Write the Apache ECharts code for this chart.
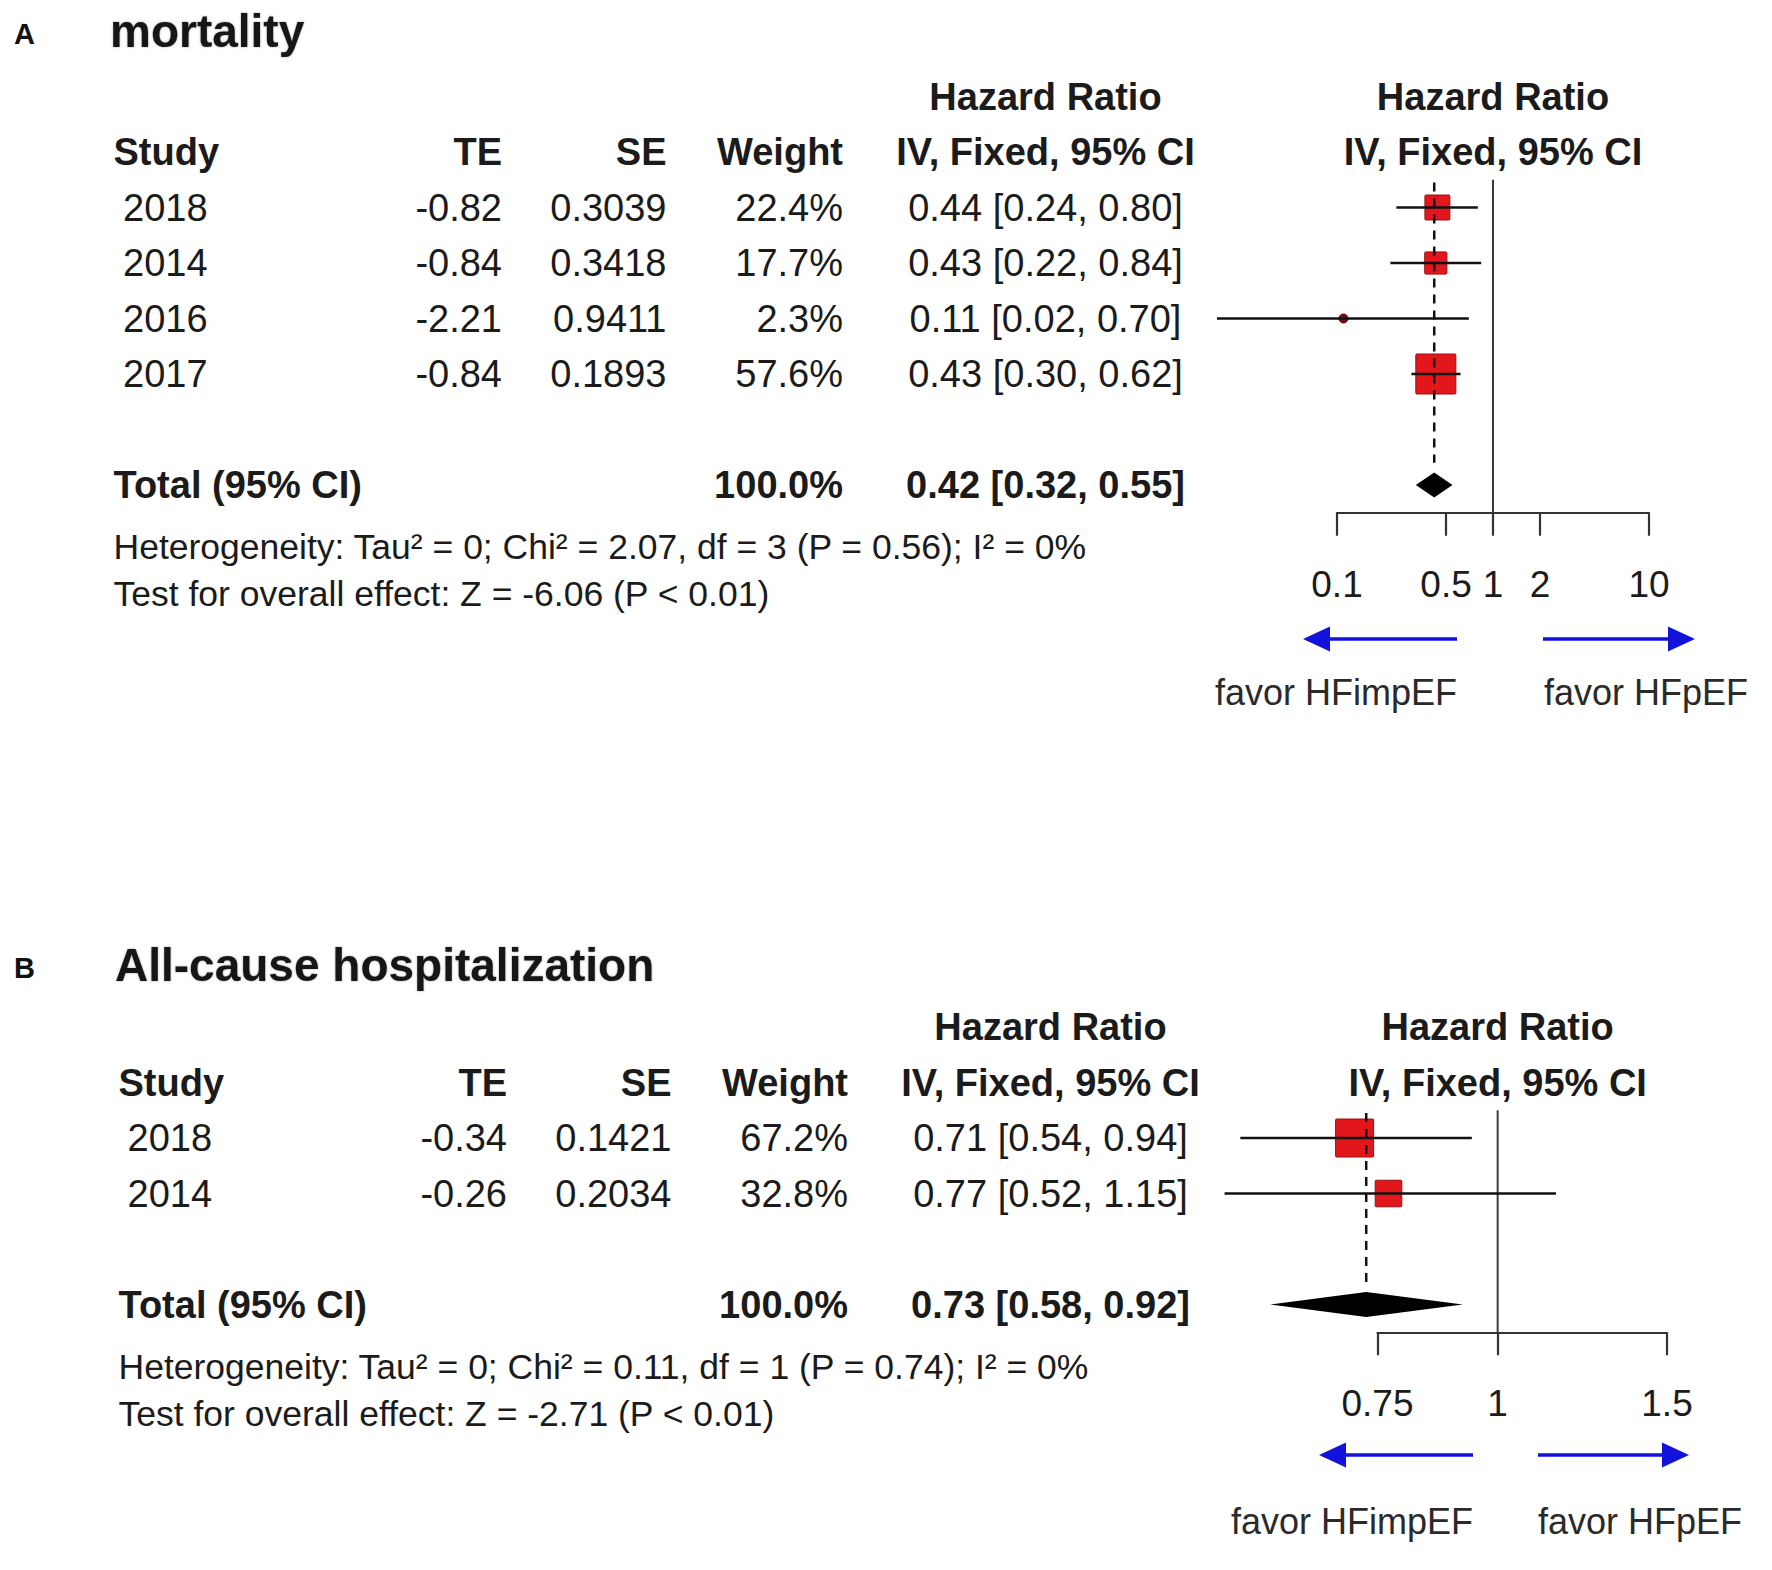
<!DOCTYPE html>
<html>
<head>
<meta charset="utf-8">
<script src="https://cdn.jsdelivr.net/npm/echarts@6/dist/echarts.min.js"></script>
<style>
html,body{margin:0;padding:0;background:#ffffff;}
#main{width:1772px;height:1570px;}
</style>
</head>
<body>
<div id="main"></div>
<script>
// ---------------- Panel A : mortality ----------------
const titleA = 'mortality';
const studyA = ['2018', '2014', '2016', '2017'];
const teA = [-0.82, -0.84, -2.21, -0.84];
const seA = [0.3039, 0.3418, 0.9411, 0.1893];
const weightA = [22.4, 17.7, 2.3, 57.6];
const hrA = [0.44, 0.43, 0.11, 0.43];
const lowerA = [0.24, 0.22, 0.017, 0.30];
const upperA = [0.80, 0.84, 0.70, 0.62];
const totalA = [0.42, 0.32, 0.55];          // HR, lower, upper
const hetA = 'Heterogeneity: Tau² = 0; Chi² = 2.07, df = 3 (P = 0.56); I² = 0%';
const testA = 'Test for overall effect: Z = -6.06 (P < 0.01)';
const ticksA = [0.1, 0.5, 1, 2, 10];

// ---------------- Panel B : All-cause hospitalization ----------------
const titleB = 'All-cause hospitalization';
const studyB = ['2018', '2014'];
const teB = [-0.34, -0.26];
const seB = [0.1421, 0.2034];
const weightB = [67.2, 32.8];
const hrB = [0.71, 0.77];
const lowerB = [0.54, 0.52];
const upperB = [0.94, 1.15];
const totalB = [0.73, 0.58, 0.92];
const hetB = 'Heterogeneity: Tau² = 0; Chi² = 0.11, df = 1 (P = 0.74); I² = 0%';
const testB = 'Test for overall effect: Z = -2.71 (P < 0.01)';
const ticksB = [0.75, 1, 1.5];

const leftLabel = 'favor HFimpEF';
const rightLabel = 'favor HFpEF';
const colHeaders = ['Study', 'TE', 'SE', 'Weight', 'Hazard Ratio', 'IV, Fixed, 95% CI', 'Total (95% CI)'];

// ---------------- styling / layout ----------------
const FONT = '"Liberation Sans", Arial, Helvetica, sans-serif';
const INK = '#1b1b1b';
const RED = '#e3161c';
const BLUE = '#1212dc';

const panels = [
  {
    letter: 'A', title: titleA, study: studyA, te: teA, se: seA, weight: weightA, hr: hrA,
    lower: lowerA, upper: upperA, total: totalA, het: hetA, test: testA, ticks: ticksA,
    L: { rowTop: 96.5, rowH: 55.5, totalRow: 7, axMin: 0.1, axMax: 10, gridLeft: 1337, gridWidth: 312,
         letterX: 14, titleX: 110, titleY: 31,
         colStudyHead: 113.5, colStudy: 123, colTE: 502, colSE: 666.5, colW: 843, colHR: 1045.5,
         maxBox: 40, arrowY: 639, leftArrow: [1457, 1303], rightArrow: [1543, 1695],
         favorY: 692, favorLeftX: 1336, favorRightX: 1646 }
  },
  {
    letter: 'B', title: titleB, study: studyB, te: teB, se: seB, weight: weightB, hr: hrB,
    lower: lowerB, upper: upperB, total: totalB, het: hetB, test: testB, ticks: ticksB,
    L: { rowTop: 1027, rowH: 55.5, totalRow: 5, axMin: 0.75, axMax: 1.5, gridLeft: 1377.5, gridWidth: 289.5,
         letterX: 14, titleX: 115, titleY: 965,
         colStudyHead: 118.5, colStudy: 127.5, colTE: 507, colSE: 671.5, colW: 848, colHR: 1050.5,
         maxBox: 38, arrowY: 1455, leftArrow: [1473, 1319], rightArrow: [1538, 1689],
         favorY: 1521, favorLeftX: 1352, favorRightX: 1640 }
  }
];

function fmtHR(h, l, u) { return h.toFixed(2) + ' [' + l.toFixed(2) + ', ' + u.toFixed(2) + ']'; }

function tableRows(p) {
  const L = p.L;
  const rows = [];
  rows.push({ y: 0, cells: [
    { t: colHeaders[4], x: L.colHR, a: 'center', b: true },
    { t: colHeaders[4], x: 'one', a: 'center', b: true } ] });
  rows.push({ y: 1, cells: [
    { t: colHeaders[0], x: L.colStudyHead, a: 'left', b: true },
    { t: colHeaders[1], x: L.colTE, a: 'right', b: true },
    { t: colHeaders[2], x: L.colSE, a: 'right', b: true },
    { t: colHeaders[3], x: L.colW, a: 'right', b: true },
    { t: colHeaders[5], x: L.colHR, a: 'center', b: true },
    { t: colHeaders[5], x: 'one', a: 'center', b: true } ] });
  p.study.forEach(function (s, i) {
    rows.push({ y: i + 2, cells: [
      { t: s, x: L.colStudy, a: 'left' },
      { t: p.te[i].toFixed(2), x: L.colTE, a: 'right' },
      { t: p.se[i].toFixed(4), x: L.colSE, a: 'right' },
      { t: p.weight[i].toFixed(1) + '%', x: L.colW, a: 'right' },
      { t: fmtHR(p.hr[i], p.lower[i], p.upper[i]), x: L.colHR, a: 'center' } ] });
  });
  const wSum = p.weight.reduce(function (a, b) { return a + b; }, 0);
  rows.push({ y: L.totalRow, cells: [
    { t: colHeaders[6], x: L.colStudyHead, a: 'left', b: true },
    { t: wSum.toFixed(1) + '%', x: L.colW, a: 'right', b: true },
    { t: fmtHR(p.total[0], p.total[1], p.total[2]), x: L.colHR, a: 'center', b: true } ] });
  rows.push({ y: L.totalRow + 1.12, cells: [ { t: p.het, x: L.colStudyHead, a: 'left', fs: 35.5 } ] });
  rows.push({ y: L.totalRow + 1.97, cells: [ { t: p.test, x: L.colStudyHead, a: 'left', fs: 35.5 } ] });
  return rows;
}

const grids = [], xAxes = [], yAxes = [], series = [], graphics = [];

panels.forEach(function (p, k) {
  const L = p.L;
  const yMin = 1.5, yMax = L.totalRow + 0.5;
  grids.push({ left: L.gridLeft, width: L.gridWidth, top: L.rowTop + yMin * L.rowH,
               height: (yMax - yMin) * L.rowH, containLabel: false, outerBoundsMode: 'none' });
  xAxes.push({
    type: 'log', logBase: 10, gridIndex: k, min: L.axMin, max: L.axMax, position: 'bottom',
    axisLine: { show: true, lineStyle: { color: '#333', width: 2.2 } },
    axisTick: { show: true, inside: false, length: 23, customValues: p.ticks, lineStyle: { color: '#333', width: 2.2 } },
    axisLabel: { show: true, customValues: p.ticks, interval: 0, margin: 53, fontSize: 37, fontFamily: FONT, color: INK,
                 formatter: function (v) { return String(+Number(v).toPrecision(6)); } },
    splitLine: { show: false }, minorTick: { show: false }, minorSplitLine: { show: false }
  });
  yAxes.push({ type: 'value', gridIndex: k, min: yMin, max: yMax, inverse: true, show: false,
               splitLine: { show: false } });

  // reference line at HR = 1
  series.push({
    type: 'custom', xAxisIndex: k, yAxisIndex: k, clip: false, silent: true, z: 2,
    data: [[1, yMin, yMax]],
    renderItem: function (params, api) {
      const a = api.coord([api.value(0), api.value(1)]);
      const b = api.coord([api.value(0), api.value(2)]);
      return { type: 'line', shape: { x1: a[0], y1: a[1], x2: b[0], y2: b[1] },
               style: { stroke: '#3a3a3a', lineWidth: 2 } };
    }
  });

  // study squares + CI lines
  const maxW = Math.max.apply(null, p.weight);
  series.push({
    type: 'custom', xAxisIndex: k, yAxisIndex: k, clip: false, silent: true, z: 3,
    data: p.hr.map(function (h, i) { return [h, i + 2, p.lower[i], p.upper[i], p.weight[i]]; }),
    renderItem: function (params, api) {
      const c = api.coord([api.value(0), api.value(1)]);
      const l = api.coord([api.value(2), api.value(1)]);
      const u = api.coord([api.value(3), api.value(1)]);
      const s = Math.max(9, L.maxBox * Math.sqrt(api.value(4) / maxW));
      const tiny = s < 14;
      return { type: 'group', children: [
        { type: 'rect', shape: { x: c[0] - s / 2, y: c[1] - s / 2, width: s, height: s, r: tiny ? s / 2 : 1 },
          style: { fill: tiny ? '#7a0c1c' : RED, stroke: tiny ? '#4a0612' : '#9a0f14', lineWidth: 1 } },
        { type: 'line', shape: { x1: l[0], y1: c[1], x2: u[0], y2: c[1] },
          style: { stroke: '#111', lineWidth: 2.4 } }
      ] };
    }
  });

  // pooled estimate: dashed line + diamond
  series.push({
    type: 'custom', xAxisIndex: k, yAxisIndex: k, clip: false, silent: true, z: 4,
    data: [[p.total[0], L.totalRow, p.total[1], p.total[2]]],
    renderItem: function (params, api) {
      const row = api.value(1);
      const top = api.coord([api.value(0), 1.55]);
      const bot = api.coord([api.value(0), row - 0.4]);
      const c = api.coord([api.value(0), row]);
      const l = api.coord([api.value(2), row]);
      const u = api.coord([api.value(3), row]);
      const h = 12.5;
      return { type: 'group', children: [
        { type: 'line', shape: { x1: top[0], y1: top[1], x2: bot[0], y2: bot[1] },
          style: { stroke: '#111', lineWidth: 2.5, lineDash: [9, 7] } },
        { type: 'polygon', shape: { points: [[l[0], c[1]], [c[0], c[1] - h], [u[0], c[1]], [c[0], c[1] + h]] },
          style: { fill: '#000' } }
      ] };
    }
  });

  // table text
  const rows = tableRows(p);
  series.push({
    type: 'custom', xAxisIndex: k, yAxisIndex: k, clip: false, silent: true, z: 5,
    data: rows.map(function (r) { return [1, r.y]; }),
    renderItem: function (params, api) {
      const r = rows[params.dataIndex];
      const pt = api.coord([api.value(0), api.value(1)]);
      return { type: 'group', children: r.cells.map(function (c) {
        return { type: 'text', x: c.x === 'one' ? pt[0] : c.x, y: pt[1],
                 style: { text: c.t, fontFamily: FONT, fontSize: c.fs || 38, fontWeight: c.b ? 'bold' : 'normal',
                          fill: INK, align: c.a, verticalAlign: 'middle' } };
      }) };
    }
  });

  // panel letter and title
  graphics.push({ type: 'text', x: L.letterX, y: L.titleY + 3,
    style: { text: p.letter, fontFamily: FONT, fontSize: 29, fontWeight: 'bold', fill: '#111', align: 'left', verticalAlign: 'middle' } });
  graphics.push({ type: 'text', x: L.titleX, y: L.titleY,
    style: { text: p.title, fontFamily: FONT, fontSize: 46, fontWeight: 'bold', fill: '#161616', align: 'left', verticalAlign: 'middle',
             textShadowColor: 'rgba(0,0,0,0.35)', textShadowBlur: 2 } });

  // direction arrows
  [L.leftArrow, L.rightArrow].forEach(function (ar) {
    const tail = ar[0], tip = ar[1], dir = tip > tail ? 1 : -1, hl = 27, hw = 12.5, y = L.arrowY;
    graphics.push({ type: 'line', shape: { x1: tail, y1: y, x2: tip - dir * hl * 0.7, y2: y },
                    style: { stroke: BLUE, lineWidth: 3.6 } });
    graphics.push({ type: 'polygon', shape: { points: [[tip, y], [tip - dir * hl, y - hw], [tip - dir * hl, y + hw]] },
                    style: { fill: BLUE } });
  });
  graphics.push({ type: 'text', x: L.favorLeftX, y: L.favorY,
    style: { text: leftLabel, fontFamily: FONT, fontSize: 36, fill: '#2a2a2a', align: 'center', verticalAlign: 'middle' } });
  graphics.push({ type: 'text', x: L.favorRightX, y: L.favorY,
    style: { text: rightLabel, fontFamily: FONT, fontSize: 36, fill: '#2a2a2a', align: 'center', verticalAlign: 'middle' } });
});

const chart = echarts.init(document.getElementById('main'), null, { renderer: 'svg', width: 1772, height: 1570 });
chart.setOption({
  animation: false,
  backgroundColor: '#ffffff',
  grid: grids,
  xAxis: xAxes,
  yAxis: yAxes,
  series: series,
  graphic: { elements: graphics }
});
</script>
</body>
</html>
